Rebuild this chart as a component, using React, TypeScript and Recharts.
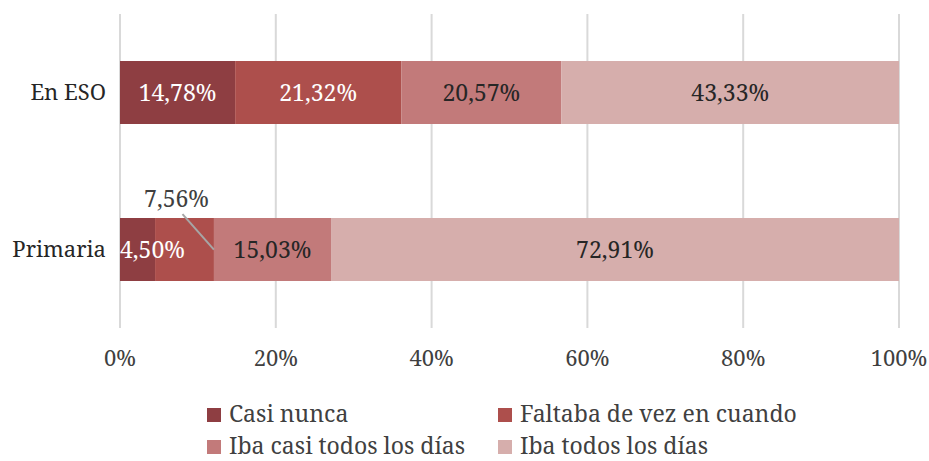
import { BarChart, Bar, XAxis, YAxis, CartesianGrid, Legend, LabelList } from "recharts";

const categories = ["En ESO", "Primaria"];
const casiNunca = [14.78, 4.5];
const faltaba = [21.32, 7.56];
const ibaCasi = [20.57, 15.03];
const ibaTodos = [43.33, 72.91];
const xTicks = [0, 20, 40, 60, 80, 100];

const seriesInfo = [
  { key: "casiNunca", name: "Casi nunca", color: "#8e3e42", text: "#ffffff" },
  { key: "faltaba", name: "Faltaba de vez en cuando", color: "#ad4f4c", text: "#ffffff" },
  { key: "ibaCasi", name: "Iba casi todos los días", color: "#c27a7a", text: "#262626" },
  { key: "ibaTodos", name: "Iba todos los días", color: "#d6aeac", text: "#262626" },
];

const data = categories.map((c, i) => ({
  cat: c,
  casiNunca: casiNunca[i],
  faltaba: faltaba[i],
  ibaCasi: ibaCasi[i],
  ibaTodos: ibaTodos[i],
}));

const FONT = "Noto Serif";
const FS = 22;
const fmt = (v: number) => v.toFixed(2).replace(".", ",") + "%";

// outside: label drawn above the bar with a leader line; leftAlign: label starts at the bar's left edge
function makeLabel(textColor: string, outsideIndex: number | null, leftIndex: number | null) {
  return (props: any) => {
    const { x, y, width, height, value, index } = props;
    if (index === outsideIndex) {
      const cx = x + width / 2;
      return (
        <g>
          <line x1={cx - 2} y1={y - 4} x2={x + width} y2={y + height / 2} stroke="#a6a6a6" strokeWidth={2} />
          <text x={cx - 8} y={y - 11} textAnchor="middle" fill="#404040" fontSize={23} fontFamily={FONT}>
            {fmt(value)}
          </text>
        </g>
      );
    }
    const left = index === leftIndex;
    return (
      <text
        x={left ? x : x + width / 2}
        y={y + height / 2}
        dy={8}
        textAnchor={left ? "start" : "middle"}
        fill={textColor}
        fontSize={23}
        fontFamily={FONT}
      >
        {fmt(value)}
      </text>
    );
  };
}

function LegendBox() {
  return (
    <div style={{ position: "relative", width: 620, height: 93, fontFamily: FONT, fontSize: 23, color: "#404040" }}>
      {seriesInfo.map((s, i) => (
        <div
          key={s.key}
          style={{
            position: "absolute",
            left: (i % 2) * 291,
            top: 34 + Math.floor(i / 2) * 32,
            height: 22,
            lineHeight: "22px",
            display: "flex",
            alignItems: "baseline",
            whiteSpace: "nowrap",
          }}
        >
          <span style={{ display: "inline-block", width: 14, height: 14, background: s.color, marginRight: 8 }} />
          <span>{s.name}</span>
        </div>
      ))}
    </div>
  );
}

export default function App() {
  return (
    <div style={{ width: 929, height: 461, background: "#fff" }}>
      <style>{"body{margin:0}"}</style>
      <BarChart
        width={929}
        height={461}
        data={data}
        layout="vertical"
        barCategoryGap="30%"
        margin={{ top: 14, right: 30, bottom: 0, left: 0 }}
      >
        <CartesianGrid horizontal={false} stroke="#d9d9d9" strokeWidth={2} />
        <XAxis
          type="number"
          domain={[0, 100]}
          ticks={xTicks}
          tickFormatter={(v) => `${v}%`}
          axisLine={false}
          tickLine={false}
          height={40}
          tickMargin={16}
          tick={{ fill: "#404040", fontSize: FS, fontFamily: FONT }}
        />
        <YAxis
          type="category"
          dataKey="cat"
          width={120}
          axisLine={false}
          tickLine={false}
          tickMargin={8}
          tick={{ fill: "#262626", fontSize: FS, fontFamily: FONT }}
        />
        <Legend
          verticalAlign="bottom"
          height={93}
          content={() => <LegendBox />}
          wrapperStyle={{ left: 207, width: 620 }}
        />
        {seriesInfo.map((s) => (
          <Bar key={s.key} dataKey={s.key} name={s.name} stackId="a" fill={s.color} isAnimationActive={false}>
            <LabelList
              dataKey={s.key}
              content={makeLabel(s.text, s.key === "faltaba" ? 1 : null, s.key === "casiNunca" ? 1 : null)}
            />
          </Bar>
        ))}
      </BarChart>
    </div>
  );
}
